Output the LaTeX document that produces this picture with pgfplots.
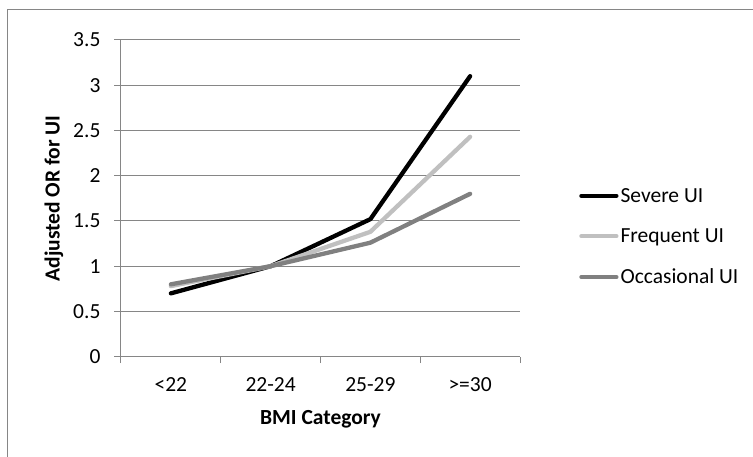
\documentclass[border=0pt]{standalone}
\usepackage{fontspec}
\setmainfont{Carlito}
\usepackage{pgfplots}
\pgfplotsset{compat=1.18}
\definecolor{gridgray}{HTML}{868686}
\definecolor{freq}{HTML}{C0C0C0}
\definecolor{occ}{HTML}{808080}
\begin{document}
\begin{tikzpicture}
\useasboundingbox (0pt,0pt) rectangle (753pt,457pt);
\draw[gridgray, line width=1pt] (7.5pt,0pt) -- (7.5pt,447.5pt) -- (753pt,447.5pt);
\begin{axis}[
  at={(121pt,100.3pt)}, anchor=south west,
  scale only axis, width=399pt, height=316.7pt,
  font=\fontsize{21.5}{25}\selectfont,
  /pgf/number format/assume math mode=true,
  xmin=-0.5, xmax=3.5, ymin=0, ymax=3.5,
  axis x line=bottom, axis y line=left,
  axis line style={-, gridgray, line width=1pt},
  xtick={-0.5,0.5,1.5,2.5,3.5},
  x tick label as interval,
  xticklabels={<22,22-24,25-29,>=30},
  ytick={0,0.5,1,1.5,2,2.5,3,3.5},
  tick align=outside,
  major tick length=6.5pt,
  every tick/.style={gridgray, line width=1pt},
  ymajorgrids=true,
  major grid style={gridgray, line width=1pt},
  yticklabel style={xshift=-10.5pt},
  xticklabel style={yshift=-11pt},
  xlabel={\bfseries BMI Category},
  xlabel style={at={(axis description cs:0.5,-0.199)}, anchor=center},
  legend style={draw=none, fill=none, inner sep=0pt, at={(1.148,0.379)}, anchor=west,
    row sep=21pt, font=\fontsize{21.5}{25}\selectfont},
  legend cell align=left,
  legend image code/.code={\draw[#1] (0pt,0pt) -- (35pt,0pt);},
  every axis plot/.append style={line width=4.3pt, line cap=round, line join=round},
]
\addplot[black] coordinates {(0,0.70) (1,1.00) (2,1.52) (3,3.10)};
\addlegendentry{Severe UI}
\addplot[freq] coordinates {(0,0.78) (1,1.00) (2,1.38) (3,2.43)};
\addlegendentry{Frequent UI}
\addplot[occ] coordinates {(0,0.80) (1,1.00) (2,1.26) (3,1.80)};
\addlegendentry{Occasional UI}
\end{axis}
\node[rotate=90, anchor=center, inner sep=0pt, font=\fontsize{21.5}{25}\selectfont\bfseries]
  at (54pt,258.6pt) {Adjusted OR for UI};
\end{tikzpicture}
\end{document}
